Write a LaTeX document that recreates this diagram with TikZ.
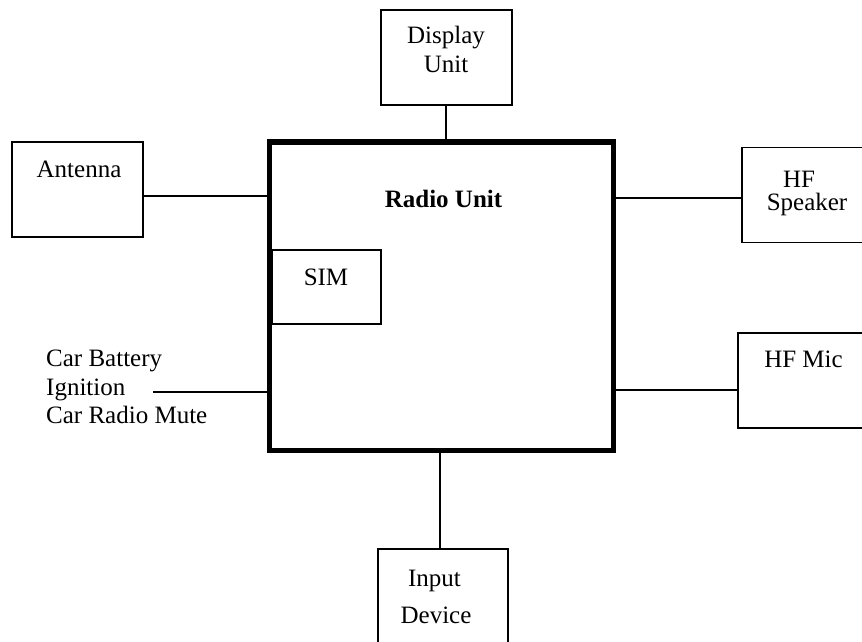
\documentclass[tikz,border=0pt]{standalone}
\usepackage{fontspec}
\setmainfont{Liberation Serif}
\begin{document}
\begin{tikzpicture}[x=1pt,y=-1pt,
  box/.style={draw, line width=1.6pt, inner sep=0pt, minimum width=131pt, minimum height=95pt},
  mainbox/.style={draw, line width=5.5pt, inner sep=0pt, minimum width=344pt, minimum height=308.5pt},
  txt/.style={inner sep=0pt, font=\fontsize{25}{28.5}\selectfont},
  wire/.style={line width=1.4pt}]
\useasboundingbox (0,0) rectangle (862,641);
\clip (0,0) rectangle (862,641);
% boxes
\node[mainbox] (radio) at (441.5,296.25) {};
\node[box] (disp) at (446.5,57.5) {};
\node[box] (ant) at (77.5,189.5) {};
\node[box] (spk) at (807.5,195) {};
\node[box] (mic) at (803.5,380.5) {};
\node[box, minimum width=109pt, minimum height=74pt] (sim) at (326.5,287) {};
\node[box, minimum width=130pt] (inp) at (443,596.5) {};
% texts
\node[txt, anchor=base] (tdisp1) at (446,43) {Display};
\node[txt, anchor=base] (tdisp2) at (446,72) {Unit};
\node[txt, anchor=base] (tant) at (79,177) {Antenna};
\node[txt, anchor=base] (tspk1) at (799,187) {HF};
\node[txt, anchor=base] (tspk2) at (807,210) {Speaker};
\node[txt, anchor=base] (tmic) at (803.5,367) {HF Mic};
\node[txt, anchor=base] (tsim) at (326,285) {SIM};
\node[txt, anchor=base, font=\fontsize{25}{28.5}\selectfont\bfseries] (tradio) at (443.5,207) {Radio Unit};
\node[txt, anchor=base] (tinp1) at (434.5,586) {Input};
\node[txt, anchor=base] (tinp2) at (436,623) {Device};
\node[txt, anchor=base west] (car1) at (46,366) {Car Battery};
\node[txt, anchor=base west] (car2) at (46,395) {Ignition};
\node[txt, anchor=base west] (car3) at (46,423) {Car Radio Mute};
% levels
\coordinate (yant) at (0,196);
\coordinate (yspk) at (0,198);
\coordinate (ymic) at (0,390);
\coordinate (ycar) at (0,392);
\coordinate (xdisp) at (446,0);
\coordinate (xinp) at (440,0);
\coordinate (carend) at (153,392);
% connectors
\draw[wire] (disp.south -| xdisp) -- (radio.north -| xdisp);
\draw[wire] (ant.east |- yant) -- (radio.west |- yant);
\draw[wire] (radio.east |- yspk) -- (spk.west |- yspk);
\draw[wire] (radio.east |- ymic) -- (mic.west |- ymic);
\draw[wire] (carend) -- (radio.west |- ycar);
\draw[wire] (radio.south -| xinp) -- (inp.north -| xinp);
\end{tikzpicture}
\end{document}
